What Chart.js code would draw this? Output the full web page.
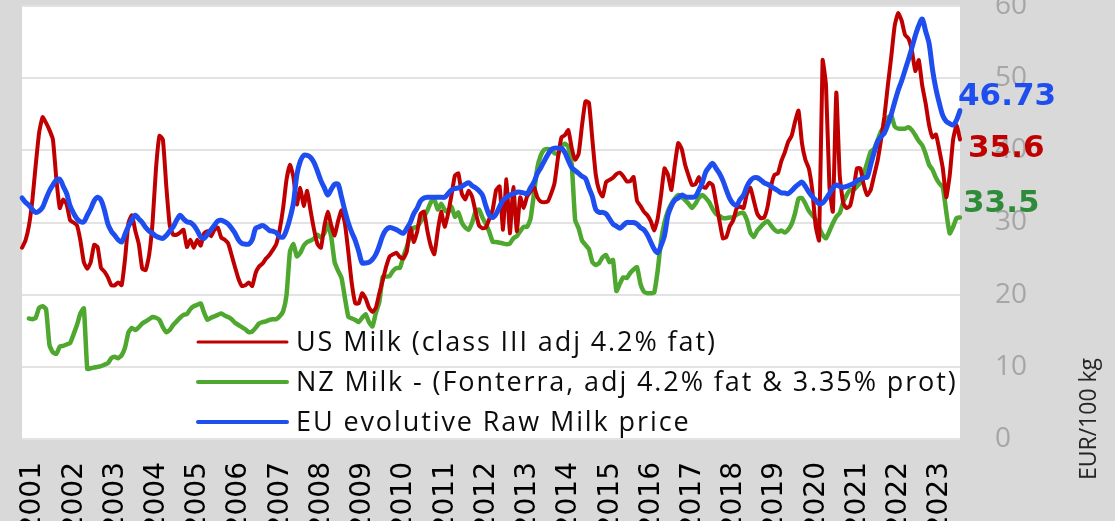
<!DOCTYPE html>
<html>
<head>
<meta charset="utf-8">
<script src="https://cdn.jsdelivr.net/npm/chart.js@4.4.0/dist/chart.umd.min.js"></script>
<style>
html, body { margin: 0; padding: 0; background: #d9d9d9; }
canvas { display: block; }
</style>
</head>
<body>
<canvas id="milkChart" width="1115" height="521"></canvas>
<script>
const years = ['2001','2002','2003','2004','2005','2006','2007','2008','2009','2010','2011','2012',
               '2013','2014','2015','2016','2017','2018','2019','2020','2021','2022','2023'];

// EUR/100 kg, monthly, Jan 2001 - Oct 2023 (one line per year)
const usMilk = [
  26.5, 27.5, 29.5, 33, 38, 42.5, 44.6, 43.8, 42.8, 41.5, 36, 32,
  33.2, 32.5, 30.3, 30, 29.6, 27.5, 24.5, 23.6, 24.5, 26.9, 26.6, 23.7,
  23.2, 22.4, 21.3, 21.3, 21.7, 21.3, 25, 30, 31, 28.8, 27, 23.6,
  23.4, 25.5, 30, 37.5, 42, 41.5, 35, 29.6, 28.3, 28.3, 28.6, 29,
  26.6, 27.6, 26.5, 27.6, 26.8, 28.5, 28.8, 28.1, 29, 29.3, 27.9, 27.6,
  27.1, 25.5, 23.8, 22.2, 21.2, 21.3, 21.7, 21.2, 23, 23.9, 24.3, 25,
  25.5, 26.2, 27, 29, 32, 36, 38, 36.3, 32.5, 34.8, 32.3, 34.4,
  31.6, 29, 27, 26.5, 29.5, 31.5, 29.6, 28.2, 30.2, 31.7, 29.8, 25.8,
  21.5, 18.8, 18.8, 20.2, 19.5, 18.2, 17.6, 18.2, 20.2, 22, 23.9, 25.3,
  25.6, 25.8, 25.2, 25, 26, 29.3, 27.3, 28.7, 31.2, 31.5, 28.8, 26.7,
  25.6, 28.8, 31.5, 29.4, 31.2, 33.8, 36.5, 36.8, 34, 33.2, 34.4, 33.6,
  31.5, 29.6, 29.2, 29.3, 30.5, 31.8, 34.5, 35, 29, 36, 28.5, 34.9,
  28.8, 33.5, 32, 33.6, 34.3, 34.9, 33.5, 32.9, 32.8, 32.9, 34, 35.5,
  39, 41.8, 42.1, 42.8, 40.3, 38.7, 39.5, 43.5, 46.8, 46.6, 41.5, 36.6,
  34.4, 33.6, 35.6, 35.9, 36.2, 36.7, 36.9, 36.4, 35.7, 35.7, 36.3, 33,
  32.3, 31.5, 31, 30.2, 28.9, 30.5, 33.8, 37.5, 36.6, 34.5, 38, 41,
  40.2, 38, 36.5, 35.2, 35.3, 36.3, 35, 34.8, 35.5, 35.2, 32.8, 30.2,
  27.8, 28, 29.5, 30.3, 32, 32.2, 32, 34, 34.8, 33, 31.2, 30.6,
  30.7, 32.2, 35, 36.6, 36.8, 38.5, 39.7, 41.2, 42, 44, 45.5, 41,
  38.7, 37.5, 34.5, 29.5, 27.5, 52.5, 49, 35, 31.5, 48, 36.5, 32.7,
  32, 32.3, 34.5, 37.5, 37.5, 35.2, 33.8, 34.5, 36.5, 38.5, 41.4, 44.7,
  49, 53, 57.3, 59, 58, 56, 55.5, 53.8, 51, 52.5, 49, 46.5,
  43.5, 41.8, 42.2, 40, 37.5, 33.5, 36.5, 41.5, 43.5, 41.5
];

const nzMilk = [
  null, null, 16.7, 16.6, 16.8, 18.2, 18.4, 18, 13, 12, 11.8, 12.8,
  12.9, 13.1, 13.3, 14.5, 15.8, 17.4, 18.1, 9.7, 9.8, 9.9, 10, 10.1,
  10.3, 10.5, 11.2, 11.4, 11.2, 11.6, 12.7, 14.8, 15.4, 15.1, 15.5, 16,
  16.3, 16.6, 16.9, 16.8, 16.5, 15.5, 14.8, 15.1, 15.8, 16.3, 16.8, 17.2,
  17.3, 18, 18.4, 18.6, 18.8, 17.5, 16.5, 16.8, 17, 17.2, 17.4, 17.1,
  16.9, 16.6, 16.1, 15.8, 15.5, 15.2, 14.8, 14.9, 15.4, 16, 16.2, 16.3,
  16.5, 16.6, 16.6, 17, 17.7, 20, 26, 27, 25.3, 25.8, 26.8, 27.3,
  27.5, 27.8, 28.3, 27.9, 28.5, 29.8, 28, 24.5, 23.3, 22.3, 19.5, 16.9,
  16.7, 16.5, 16.2, 16.8, 17.3, 16.2, 15.6, 17.5, 19, 22.5, 22.5, 22.6,
  23.3, 23.7, 23.7, 25.3, 26.6, 28.3, 29.3, 29.4, 30.1, 30.8, 31.7, 32.8,
  33.2, 31.8, 32.6, 31.8, 31.4, 32.2, 30.8, 31.4, 30, 29.3, 29, 30,
  31.5, 31.8, 30.7, 29.8, 28.7, 27.3, 27.3, 27.2, 27.1, 27, 27.1, 27.8,
  28.1, 28.8, 29.4, 29.4, 30.5, 34, 37.6, 39.3, 40.1, 40.2, 40, 39.6,
  39.5, 40.6, 40.9, 40.5, 38, 30.3, 29.2, 27.5, 26.9, 26.3, 24.5, 24.1,
  24.4, 25.2, 25.5, 24.5, 24.8, 20.5, 21.5, 22.4, 22.3, 23, 23.5, 23.8,
  21.5, 20.4, 20.2, 20.2, 20.3, 23.3, 27.5, 30, 31.6, 32.6, 33.3, 33.8,
  33.5, 33.1, 32.6, 32, 32.6, 33.4, 33.8, 33.4, 32.8, 31.9, 31.2, 30.9,
  30.6, 30.6, 30.7, 30.7, 31.1, 31.3, 31.3, 30.3, 28.6, 28, 28.9, 29.4,
  29.9, 30.2, 29.6, 29, 28.7, 28.9, 28.6, 29, 29.8, 31.3, 33.3, 33.4,
  32.6, 31.6, 31, 30.4, 29.3, 28.3, 27.8, 28.8, 29.9, 30.8, 31.3, 32.8,
  33.8, 34.5, 34.5, 35, 35.5, 36.8, 38.3, 39.8, 40.2, 41.4, 42.6, 43.4,
  44.5, 44.8, 43.3, 43, 43, 43, 43.2, 42.8, 42.1, 41.3, 40.7, 39.5,
  38, 37.3, 36.2, 35.4, 34.9, 31.5, 28.5, 29.4, 30.6, 30.7
];

const euMilk = [
  33.4, 32.8, 32.4, 31.8, 31.4, 31.6, 32.1, 33.3, 34.4, 35.2, 35.9, 36,
  35, 34, 32.3, 31.3, 30.5, 30.1, 30.1, 31, 31.9, 33, 33.5, 33.1,
  31.7, 29.8, 28.8, 28.2, 27.6, 27.3, 28.4, 29.5, 30.4, 31, 30.5, 30,
  29.3, 28.8, 28.5, 28.1, 27.9, 27.8, 28.2, 28.8, 29.4, 30.3, 31, 30.5,
  30.1, 30, 29.6, 28.9, 28, 27.8, 28.4, 29, 29.6, 30.2, 30.3, 30.1,
  29.8, 29.2, 28.5, 27.6, 27.1, 27, 27, 27.6, 29.2, 29.4, 29.6, 29.3,
  28.9, 28.8, 28.6, 28, 28, 29, 30.6, 32.7, 36.6, 38.5, 39.3, 39.3,
  39, 38.3, 37.1, 35.8, 34.8, 33.8, 34.6, 35.3, 35.3, 33.5, 31.6, 29.9,
  28.6, 27.5, 26, 24.4, 24.4, 24.5, 24.9, 25.6, 26.8, 28.2, 29, 29.3,
  29.2, 29, 28.7, 28.5, 29.2, 30, 31.2, 32, 33, 33.4, 33.5, 33.5,
  33.5, 33.5, 33.5, 33.5, 34, 34.5, 34.7, 34.8, 35, 35.3, 35.5, 35.1,
  34.8, 34.4, 33.8, 32.3, 31, 30.7, 31.2, 32.2, 33.1, 33.5, 33.8, 34,
  34.2, 34.2, 34.1, 34, 34.8, 35.6, 36.8, 37.6, 38.5, 39.4, 40.1, 40.3,
  40.3, 40.3, 39.7, 38.6, 37.6, 37.2, 36.8, 36.4, 36.1, 34.8, 33.6, 31.8,
  31.4, 31.4, 31.2, 30.5, 29.8, 29.5, 29.2, 29.6, 30, 30, 30, 29.8,
  29.3, 29, 28.3, 27.3, 26.3, 25.8, 26.8, 28.2, 31, 32.3, 33.1, 33.4,
  33.8, 33.6, 33.5, 33.5, 33.6, 34.5, 35.5, 37, 37.7, 38.2, 37.5, 36.8,
  35.8, 34.5, 33.3, 32.6, 32.4, 33.2, 33.8, 35, 35.8, 36.2, 36.2, 35.9,
  35.5, 35.3, 35, 34.7, 34.4, 34.1, 34.1, 34, 34.4, 34.9, 35.3, 35.6,
  35, 34.2, 33.6, 33.1, 32.6, 32.7, 33.3, 34, 34.8, 35.2, 35, 34.9,
  35, 35.2, 35.4, 35.8, 36, 36.2, 36.3, 38, 39.7, 41.2, 41.9, 42.4,
  43.6, 45, 46.7, 48.3, 49.6, 51.1, 52.6, 54.2, 55.9, 57.3, 58.2, 56.5,
  54.8, 51.2, 48.5, 46.5, 44.8, 44, 43.7, 43.5, 44.2, 45.5
];

const endLabels = ['46.73', '35.6', '33.5'];

const months = [];
years.forEach(y => {
  for (let m = 1; m <= 12; m++) months.push(y + '-' + String(m).padStart(2, '0'));
});
months.length = usMilk.length;

const frame = {
  id: 'frame',
  beforeDraw(chart) {
    const { ctx, chartArea: a } = chart;
    ctx.save();
    ctx.fillStyle = '#d9d9d9';
    ctx.fillRect(0, 0, chart.width, chart.height);
    ctx.fillStyle = '#ffffff';
    ctx.fillRect(a.left, a.top, a.right - a.left, a.bottom - a.top);
    ctx.restore();
  }
};

const notes = {
  id: 'notes',
  afterDraw(chart) {
    const { ctx, chartArea: a } = chart;
    ctx.save();

    // legend inside the plot, lower middle
    ctx.font = '27px "Open Sans"';
    ctx.letterSpacing = '1.9px';
    ctx.textBaseline = 'middle';
    ctx.textAlign = 'left';
    chart.data.datasets.forEach((ds, i) => {
      const y = a.bottom - 97 + i * 40;
      ctx.strokeStyle = ds.borderColor;
      ctx.lineWidth = i === 0 ? 3 : 4;
      ctx.lineCap = 'round';
      ctx.beginPath();
      ctx.moveTo(198, y);
      ctx.lineTo(287, y);
      ctx.stroke();
      ctx.fillStyle = '#0d0d0d';
      ctx.fillText(ds.label, 296, y + 1);
    });
    ctx.letterSpacing = '0px';

    // latest values at the right end
    ctx.font = 'bold 31px "DejaVu Sans"';
    const tags = [
      { text: endLabels[0], color: '#1f4ef0', x: a.right - 2, y: 97 },
      { text: endLabels[1], color: '#c00000', x: a.right + 8, y: 149 },
      { text: endLabels[2], color: '#2e8b3a', x: a.right + 3, y: 204 }
    ];
    tags.forEach(t => {
      ctx.fillStyle = t.color;
      ctx.fillText(t.text, t.x, t.y);
    });

    // axis title, reading upwards
    ctx.translate(1089, 419);
    ctx.rotate(-Math.PI / 2);
    ctx.font = '23px "Open Sans"';
    ctx.fillStyle = '#262626';
    ctx.textAlign = 'center';
    ctx.fillText('EUR/100 kg', 0, 0);
    ctx.restore();
  }
};

new Chart(document.getElementById('milkChart'), {
  type: 'line',
  data: {
    labels: months,
    datasets: [
      {
        label: 'US Milk (class III adj 4.2% fat)',
        data: usMilk,
        borderColor: '#c00000',
        borderWidth: 4,
        tension: 0.15,
        order: 1
      },
      {
        label: 'NZ Milk - (Fonterra, adj 4.2% fat & 3.35% prot)',
        data: nzMilk,
        borderColor: '#4ea72e',
        borderWidth: 4.5,
        tension: 0.15,
        order: 2
      },
      {
        label: 'EU evolutive Raw Milk price',
        data: euMilk,
        borderColor: '#1f4ef0',
        borderWidth: 5,
        tension: 0.3,
        order: 0
      }
    ]
  },
  options: {
    responsive: false,
    devicePixelRatio: 1,
    animation: false,
    layout: { padding: { left: 22, top: 6, right: 0, bottom: 0 } },
    elements: {
      point: { radius: 0, hoverRadius: 0 },
      line: { borderJoinStyle: 'round', borderCapStyle: 'round' }
    },
    plugins: {
      legend: { display: false },
      tooltip: { enabled: false }
    },
    scales: {
      x: {
        type: 'category',
        offset: false,
        grid: { display: false, drawTicks: false },
        border: { display: false },
        ticks: {
          autoSkip: false,
          minRotation: 90,
          maxRotation: 90,
          padding: 23,
          labelOffset: 11,
          color: '#000000',
          font: { family: 'DejaVu Sans', size: 28 },
          callback: (v, i) => (i % 12 === 0 ? months[i].slice(0, 4) : '')
        },
        afterFit: s => { s.height = 82; s.paddingLeft = 0; s.paddingRight = 0; }
      },
      y: {
        position: 'right',
        min: 0,
        max: 60,
        grid: { color: '#e3e3e3', lineWidth: 2, drawTicks: false },
        border: { display: false },
        ticks: {
          stepSize: 10,
          padding: 35,
          color: '#a6a6a6',
          font: { family: 'Open Sans', size: 28 }
        },
        afterFit: s => { s.width = 155; s.paddingTop = 0; s.paddingBottom = 0; }
      }
    }
  },
  plugins: [frame, notes]
});
</script>
</body>
</html>
